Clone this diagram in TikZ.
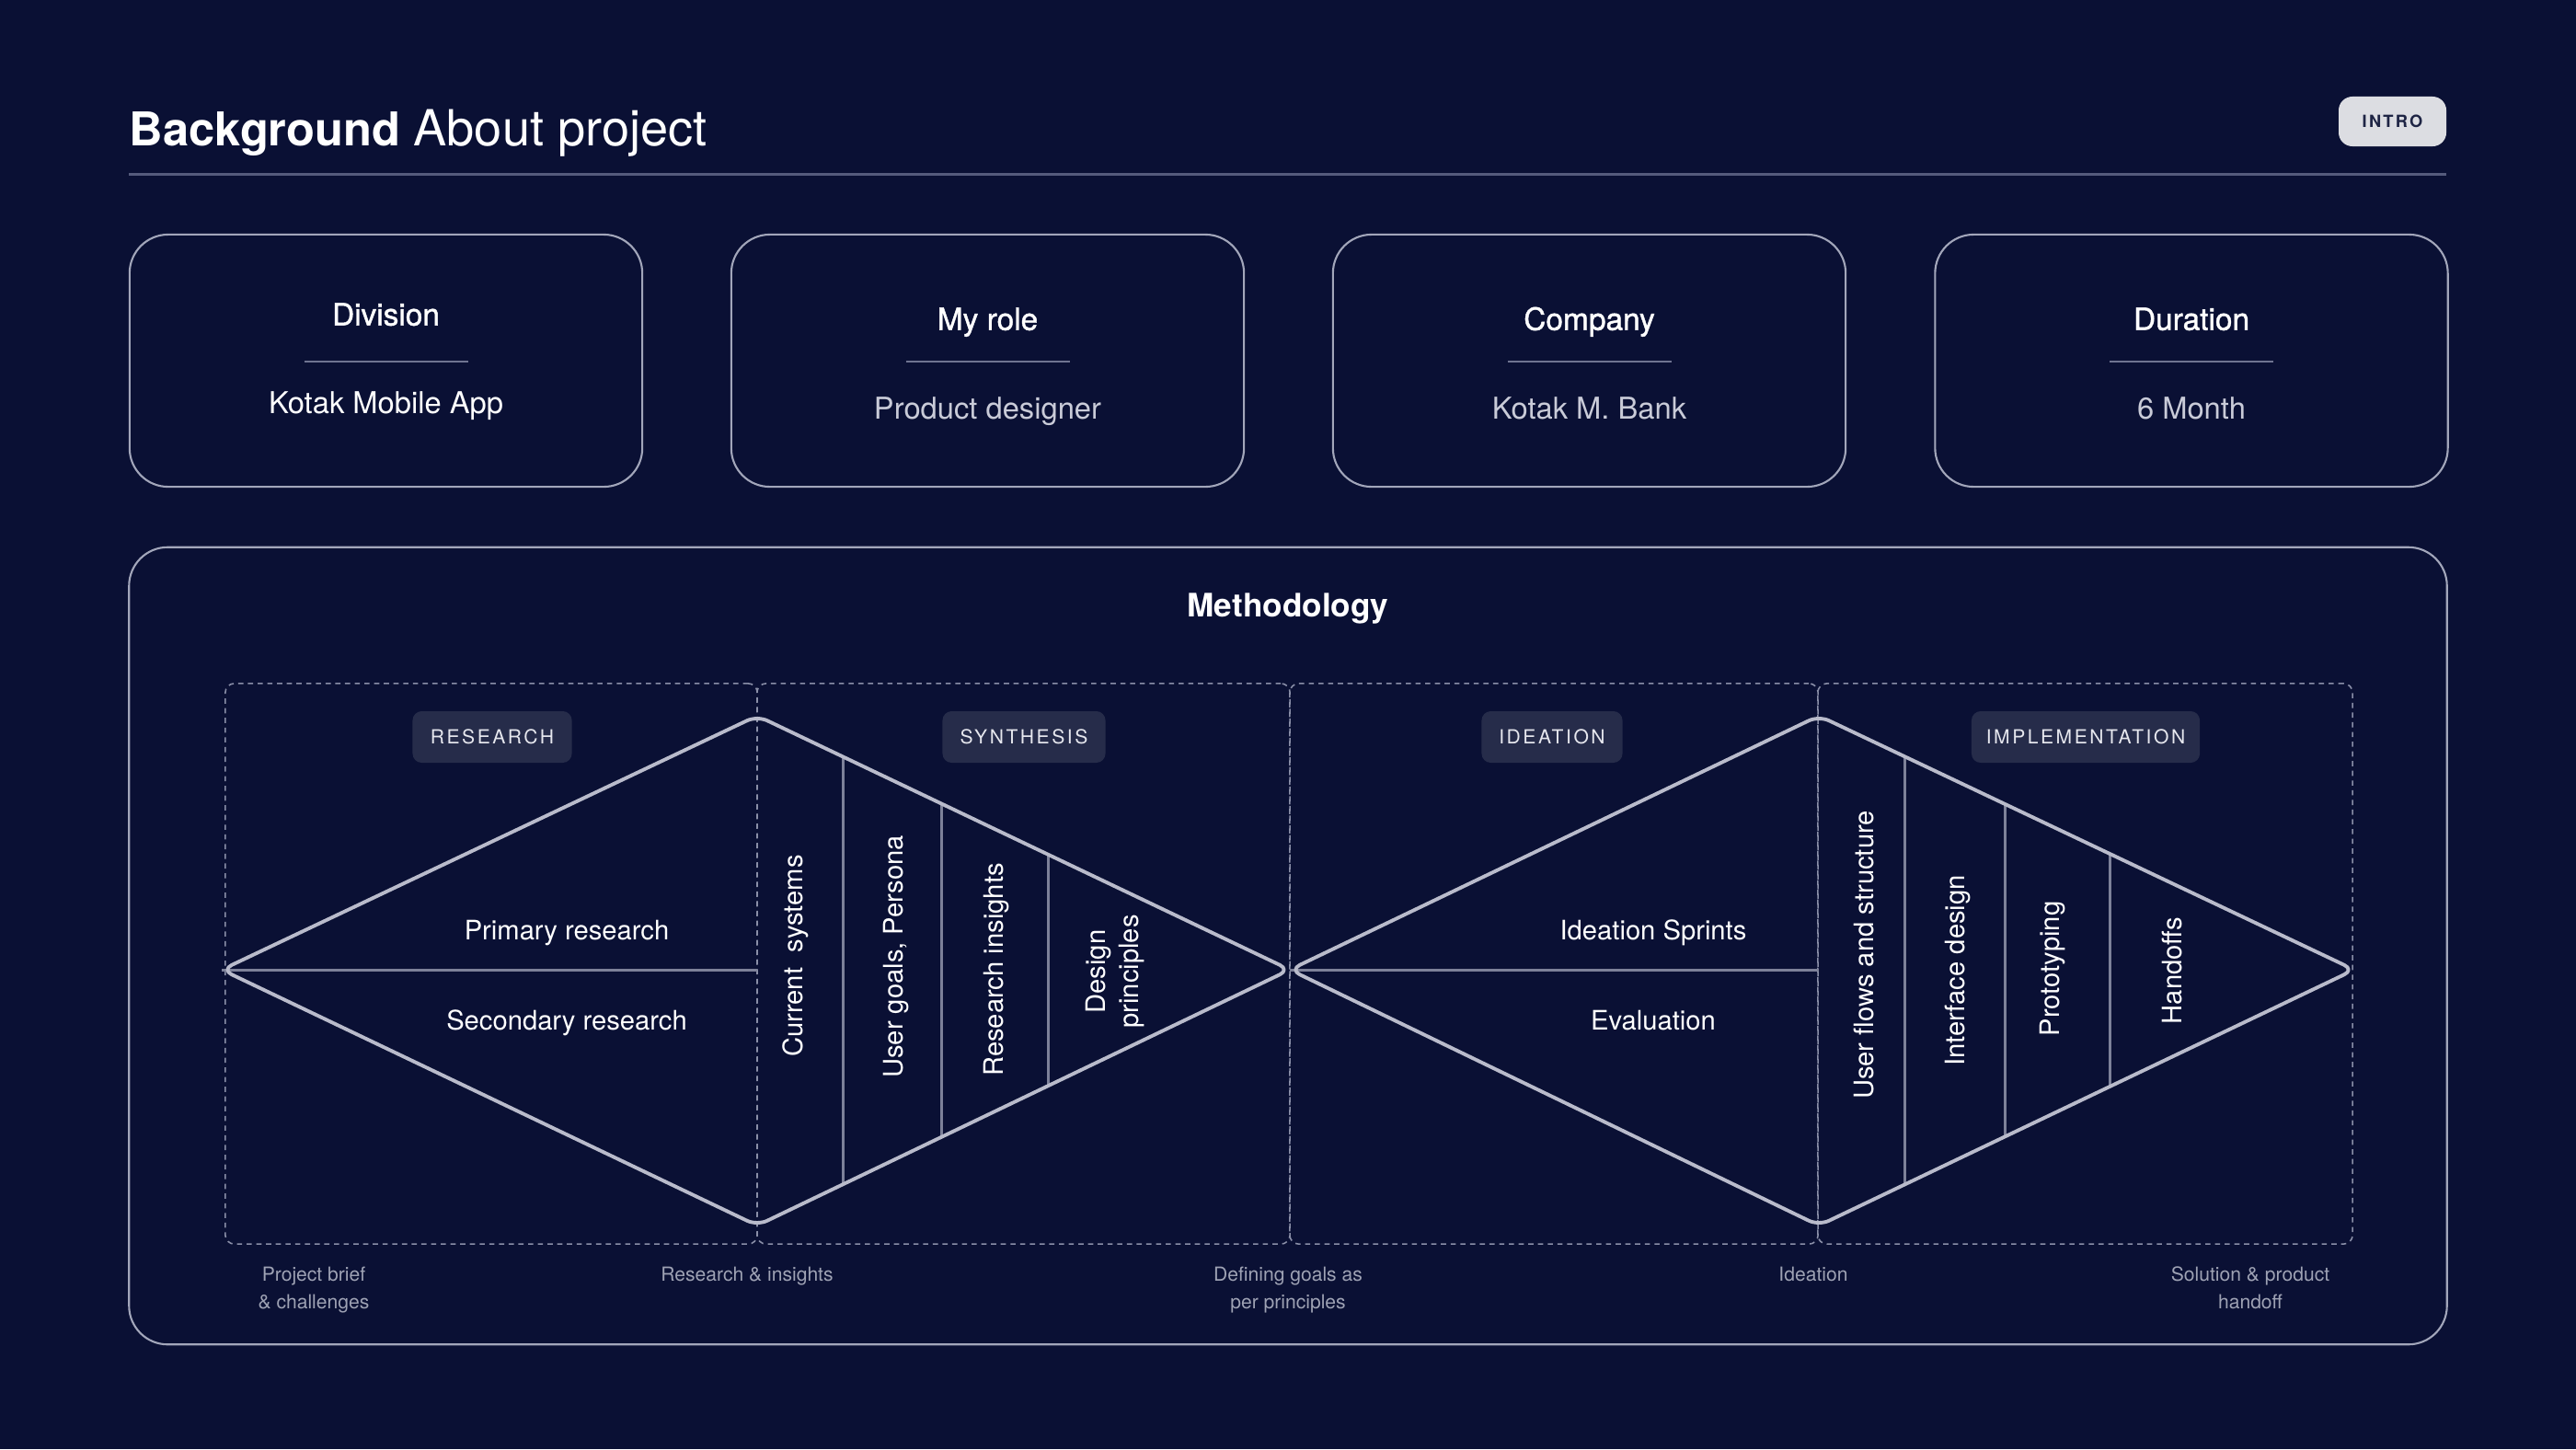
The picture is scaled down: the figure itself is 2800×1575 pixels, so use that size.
\documentclass[tikz,border=0pt]{standalone}
\usepackage{fontspec}
\setmainfont{TeX Gyre Heros}
\newfontfamily\medfont[FakeBold=1.2]{TeX Gyre Heros}
\newfontfamily\spacedfont[LetterSpace=12]{TeX Gyre Heros}
\definecolor{bgc}{HTML}{0A1034}
\definecolor{cardline}{HTML}{A2A6BA}
\definecolor{rulec}{HTML}{555B7C}
\definecolor{divc}{HTML}{6F7491}
\definecolor{diac}{HTML}{B9BBCB}
\definecolor{midc}{HTML}{7D8199}
\definecolor{dashc}{HTML}{8A8FA8}
\definecolor{badgec}{HTML}{262C4A}
\definecolor{badget}{HTML}{E6E7EE}
\definecolor{bottomt}{HTML}{9EA2B4}
\definecolor{introf}{HTML}{DCDDE2}
\definecolor{introt}{HTML}{1E2444}
\definecolor{valgray}{HTML}{C9CBD8}
\begin{document}
\begin{tikzpicture}[x=0.01cm,y=-0.01cm,
  capfix/.style={text height=0.72em, text depth=0pt},
  card/.style={draw=cardline, line width=0.6pt, rounded corners=0.42cm, minimum width=5.57cm, minimum height=2.74cm, inner sep=0},
  cardtitle/.style={text=white, font=\medfont\fontsize{9.5}{11}\selectfont, inner sep=0, capfix},
  cardval/.style={text=valgray, font=\fontsize{9.3}{11}\selectfont, inner sep=0, capfix},
  carddiv/.style={draw=divc, line width=0.6pt},
  phasebox/.style={draw=dashc, line width=0.45pt, dash pattern=on 1.6pt off 1.4pt, rounded corners=0.1cm, inner sep=0, minimum height=6.09cm},
  dia/.style={draw=diac, line width=1.1pt, rounded corners=0.12cm, line join=round},
  midline/.style={draw=midc, line width=0.85pt},
  badge/.style={fill=badgec, rounded corners=0.1cm, minimum height=0.56cm, inner sep=0, text=badget, font=\spacedfont\fontsize{6}{7}\selectfont},
  vlabel/.style={rotate=90, text=white, font=\fontsize{8.3}{10}\selectfont, inner sep=0, align=center},
  hlabel/.style={text=white, font=\fontsize{8.3}{10}\selectfont, inner sep=0, capfix},
  bottomlabel/.style={text=bottomt, font=\fontsize{6}{8.5}\selectfont, inner sep=0, align=center, anchor=north}
]
\useasboundingbox (0,0) rectangle (2800,1575);
\fill[bgc] (0,0) rectangle (2800,1575);

% title
\node[anchor=base west, inner sep=0, text=white] (title) at (140,158) {\fontsize{14.4}{16}\selectfont\textbf{Background} \fontsize{15.4}{16}\selectfont About project};
\coordinate (ruleL) at (140,189);
\coordinate (ruleR) at (2659,189);
\draw[rulec, line width=0.85pt] (ruleL) -- (ruleR);
\node[fill=introf, rounded corners=0.15cm, minimum width=1.17cm, minimum height=0.54cm, inner sep=0, text=introt, font=\spacedfont\bfseries\fontsize{5.2}{6}\selectfont] (intro) at (2600.5,132) {INTRO};

% cards
\node[card] (c1) at (419.5,392) {};
\node[card] (c2) at (1073.5,392) {};
\node[card] (c3) at (1727.5,392) {};
\node[card] (c4) at (2382,392) {};
\node[cardtitle] (t1) at (419.5,341) {Division};
\node[cardtitle] (t2) at (1073.5,346) {My role};
\node[cardtitle] (t3) at (1727.5,346) {Company};
\node[cardtitle] (t4) at (2382,346) {Duration};
\node[cardval, text=white] (v1) at (419.5,437) {Kotak Mobile App};
\node[cardval] (v2) at (1073.5,443) {Product designer};
\node[cardval] (v3) at (1727.5,443) {Kotak M. Bank};
\node[cardval] (v4) at (2382,443) {6 Month};
\foreach \cx/\n in {419.5/1,1073.5/2,1727.5/3,2382/4}{
  \coordinate (dl\n) at (\cx-89,393);
  \coordinate (dr\n) at (\cx+89,393);
  \draw[carddiv] (dl\n) -- (dr\n);
}

% methodology frame
\node[draw=cardline, line width=0.6pt, rounded corners=0.42cm, minimum width=25.18cm, minimum height=8.66cm, inner sep=0] (meth) at (1400,1028) {};
\node[text=white, font=\bfseries\fontsize{10}{12}\selectfont, inner sep=0, capfix] (methtitle) at (1400,658) {Methodology};

% phase boxes
\node[phasebox, minimum width=5.78cm] (p1) at (534,1047.5) {};
\node[phasebox, minimum width=5.79cm] (p2) at (1112.5,1047.5) {};
\node[phasebox, minimum width=5.74cm] (p3) at (1689,1047.5) {};
\node[phasebox, minimum width=5.81cm] (p4) at (2266.5,1047.5) {};

% badges
\node[badge, minimum width=1.73cm] (b1) at (535,801) {RESEARCH};
\node[badge, minimum width=1.77cm] (b2) at (1113,801) {SYNTHESIS};
\node[badge, minimum width=1.53cm] (b3) at (1687,801) {IDEATION};
\node[badge, minimum width=2.48cm] (b4) at (2267,801) {IMPLEMENTATION};

% diamonds
\coordinate (L1) at (241,1054);
\coordinate (T1) at (823,778);
\coordinate (B1) at (823,1332);
\coordinate (R1) at (1402,1054);
\coordinate (M1) at (823,1054);
\coordinate (T2) at (1977,778);
\coordinate (B2) at (1977,1332);
\coordinate (R2) at (2559,1054);
\coordinate (M2) at (1977,1054);

\draw[midline] (L1) -- (M1);
\draw[midline] (R1) -- (M2);
% dividers synthesis
\coordinate (s1t) at (916,823); \coordinate (s1b) at (916,1287);
\coordinate (s2t) at (1023,874); \coordinate (s2b) at (1023,1236);
\coordinate (s3t) at (1139,929); \coordinate (s3b) at (1139,1181);
\draw[midline] (s1t) -- (s1b);
\draw[midline] (s2t) -- (s2b);
\draw[midline] (s3t) -- (s3b);
% dividers implementation
\coordinate (i1t) at (2070,823); \coordinate (i1b) at (2070,1287);
\coordinate (i2t) at (2179,875); \coordinate (i2b) at (2179,1235);
\coordinate (i3t) at (2293,929); \coordinate (i3b) at (2293,1181);
\draw[midline] (i1t) -- (i1b);
\draw[midline] (i2t) -- (i2b);
\draw[midline] (i3t) -- (i3b);

\draw[dia] (L1) -- (T1) -- (R1) -- (B1) -- cycle;
\draw[dia] (R1) -- (T2) -- (R2) -- (B2) -- cycle;

% horizontal labels
\node[hlabel] (pr) at (616,1009) {Primary research};
\node[hlabel] (sr) at (616,1107) {Secondary research};
\node[hlabel] (is) at (1797,1009) {Ideation Sprints};
\node[hlabel] (ev) at (1797,1107) {Evaluation};

% vertical labels
\node[vlabel] (cs) at (865,1039) {Current\ \ systems};
\node[vlabel] (ug) at (974,1040) {User goals, Persona};
\node[vlabel] (ri) at (1083,1054) {Research insights};
\node[vlabel] (dp) at (1212,1056) {Design\\principles};
\node[vlabel] (uf) at (2026,1038) {User flows and structure};
\node[vlabel] (id) at (2128,1055) {Interface design};
\node[vlabel] (pt) at (2231,1053) {Prototyping};
\node[vlabel] (ho) at (2361,1055) {Handoffs};

% bottom labels
\node[bottomlabel] (q1) at (341,1376) {Project brief\\\& challenges};
\node[bottomlabel] (q2) at (812,1376) {Research \& insights};
\node[bottomlabel] (q3) at (1400,1376) {Defining goals as\\per principles};
\node[bottomlabel] (q4) at (1971,1376) {Ideation};
\node[bottomlabel] (q5) at (2446,1376) {Solution \& product\\handoff};
\end{tikzpicture}
\end{document}
